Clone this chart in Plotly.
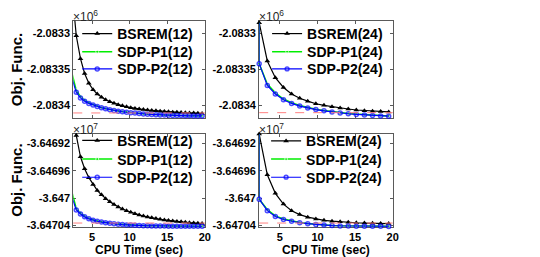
import plotly.graph_objects as go

# ---------------- data ----------------
# CPU time (sec)
t12 = [2.34, 2.90, 3.46, 4.01, 4.57, 5.13, 5.69, 6.25, 6.80, 7.36, 7.92, 8.48, 9.04, 9.59,
       10.15, 10.71, 11.27, 11.83, 12.38, 12.94, 13.50, 14.06, 14.62, 15.17, 15.73, 16.29,
       16.85, 17.41, 17.96, 18.52, 19.08, 19.64]
t24 = [2.24, 3.32, 4.39, 5.47, 6.55, 7.63, 8.70, 9.78, 10.86, 11.93, 13.01, 14.09, 15.16,
       16.24, 17.32, 18.40, 19.47]
t24_sdp = [2.24] + t24

# Objective function values, top row (x1e6)
top_bsrem12 = [-2083240.5, -2083303.2, -2083335.2, -2083355.8, -2083369.5, -2083378.5, -2083384.5,
               -2083389.1, -2083392.5, -2083395.2, -2083397.5, -2083399.5, -2083401.1, -2083402.5,
               -2083403.7, -2083404.7, -2083405.5, -2083406.3, -2083407.0, -2083407.5, -2083408.1,
               -2083408.6, -2083409.1, -2083409.5, -2083409.9, -2083410.1, -2083410.4, -2083410.7,
               -2083411.0, -2083411.2, -2083411.4, -2083411.7]
top_p1_12 = [-2083355.9, -2083379.5, -2083388.1, -2083393.2, -2083396.7, -2083399.3, -2083401.5,
             -2083403.4, -2083404.9, -2083406.2, -2083407.3, -2083408.2, -2083409.0, -2083409.8,
             -2083410.5, -2083411.1, -2083411.6, -2083412.2, -2083412.6, -2083413.0, -2083413.3,
             -2083413.6, -2083413.9, -2083414.1, -2083414.3, -2083414.4, -2083414.5, -2083414.7,
             -2083414.8, -2083415.0, -2083415.1, -2083415.1]
top_p2_12 = [-2083363.0, -2083382.2, -2083390.0, -2083394.5, -2083397.7, -2083400.0, -2083402.1,
             -2083403.8, -2083405.2, -2083406.4, -2083407.5, -2083408.5, -2083409.3, -2083410.0,
             -2083410.7, -2083411.2, -2083411.8, -2083412.3, -2083412.8, -2083413.2, -2083413.4,
             -2083413.7, -2083414.0, -2083414.3, -2083414.4, -2083414.5, -2083414.7, -2083414.8,
             -2083415.0, -2083415.1, -2083415.1, -2083415.2]
top_bsrem24 = [-2083284.9, -2083338.4, -2083361.7, -2083375.4, -2083384.5, -2083390.4, -2083394.5,
               -2083398.2, -2083400.4, -2083402.3, -2083404.1, -2083405.5, -2083406.9, -2083407.8,
               -2083408.5, -2083409.1, -2083409.6]
top_p1_24 = [-2083284.9, -2083342.1, -2083370.6, -2083382.9, -2083391.5, -2083396.7, -2083400.7,
             -2083403.7, -2083405.9, -2083407.7, -2083409.2, -2083410.6, -2083411.7, -2083412.6,
             -2083413.4, -2083414.1, -2083414.7, -2083415.1]
top_p2_24 = [-2083284.9, -2083342.1, -2083372.6, -2083384.5, -2083392.7, -2083397.7, -2083401.4,
             -2083404.1, -2083406.3, -2083408.1, -2083409.6, -2083411.0, -2083412.1, -2083413.0,
             -2083413.8, -2083414.5, -2083415.1, -2083415.5]
top_opt12 = -2083411.0
top_opt24 = -2083410.6

# Objective function values, bottom row (x1e7)
bot_bsrem12 = [-36468576.9, -36469080.6, -36469392.8, -36469569.8, -36469699.3, -36469800.1,
               -36469886.4, -36469951.2, -36470008.7, -36470054.8, -36470095.1, -36470131.0,
               -36470159.8, -36470185.7, -36470208.7, -36470228.9, -36470246.2, -36470262.0,
               -36470276.4, -36470289.3, -36470300.8, -36470310.9, -36470319.5, -36470328.2,
               -36470335.4, -36470342.6, -36470348.3, -36470354.1, -36470359.8, -36470364.2,
               -36470368.5, -36470372.8]
bot_p1_12 = [-36469920.9, -36470152.6, -36470217.4, -36470264.9, -36470296.5, -36470319.5,
             -36470335.4, -36470346.9, -36470358.4, -36470367.0, -36470374.2, -36470380.0,
             -36470385.7, -36470390.1, -36470392.9, -36470395.8, -36470398.7, -36470401.6,
             -36470403.0, -36470404.4, -36470405.9, -36470407.3, -36470408.8, -36470408.8,
             -36470410.2, -36470410.2, -36470411.6, -36470411.6, -36470411.6, -36470413.1,
             -36470413.1, -36470413.1]
bot_p2_12 = [-36469992.9, -36470174.2, -36470231.8, -36470274.9, -36470303.7, -36470325.3,
             -36470339.7, -36470351.2, -36470361.3, -36470369.9, -36470377.1, -36470382.9,
             -36470388.6, -36470392.9, -36470395.8, -36470398.7, -36470401.6, -36470404.4,
             -36470405.9, -36470407.3, -36470408.8, -36470410.2, -36470410.2, -36470411.6,
             -36470411.6, -36470413.1, -36470413.1, -36470413.1, -36470414.5, -36470414.5,
             -36470414.5, -36470414.5]
bot_bsrem24 = [-36469060.0, -36469656.2, -36469929.6, -36470087.9, -36470184.3, -36470241.8,
               -36470279.3, -36470306.6, -36470325.3, -36470338.2, -36470348.3, -36470355.5,
               -36470361.3, -36470365.6, -36470368.5, -36470371.3, -36470372.8]
bot_p1_24 = [-36469060.0, -36470015.9, -36470167.0, -36470260.5, -36470306.6, -36470333.9,
             -36470357.0, -36470372.8, -36470384.3, -36470392.9, -36470400.2, -36470404.4,
             -36470407.3, -36470408.8, -36470410.2, -36470411.6, -36470411.6, -36470413.1]
bot_p2_24 = [-36469060.0, -36470015.9, -36470184.3, -36470270.6, -36470313.8, -36470339.7,
             -36470361.3, -36470375.7, -36470387.2, -36470395.8, -36470403.0, -36470407.3,
             -36470410.2, -36470411.6, -36470413.1, -36470414.5, -36470414.5, -36470416.0]
bot_opt12 = -36470365.6
bot_opt24 = -36470365.6

top_ticks = [-2.0834, -2.08335, -2.0833]
top_ticktext = ["-2.0834", "-2.08335", "-2.0833"]
bot_ticks = [-3.64704, -3.647, -3.64696, -3.64692]
bot_ticktext = ["-3.64704", "-3.647", "-3.64696", "-3.64692"]
x_ticks = [5, 10, 15, 20]

# ---------------- figure ----------------
W, H = 540, 257
FONT = "Liberation Sans"
AXCOL = "#5a5a5a"

def px_x(a, b):
    return [a / W, b / W]

def px_y(top, bot):
    return [1 - bot / H, 1 - top / H]

fig = go.Figure()

panels = [
    ("x", "y", t12, t12, top_bsrem12, top_p1_12, top_p2_12, top_opt12, 1e6, "12", False),
    ("x2", "y2", t24, t24_sdp, top_bsrem24, top_p1_24, top_p2_24, top_opt24, 1e6, "24", True),
    ("x3", "y3", t12, t12, bot_bsrem12, bot_p1_12, bot_p2_12, bot_opt12, 1e7, "12", False),
    ("x4", "y4", t24, t24_sdp, bot_bsrem24, bot_p1_24, bot_p2_24, bot_opt24, 1e7, "24", True),
]

# legend row positions (pixels): left x, row centre y's
leg_rows = [(70, [26.5, 45, 62.5]), (262, [26.5, 45, 62.5]),
            (70, [135.5, 154.5, 173]), (261, [136, 154.5, 173])]

li = 1
for pi, (xa, ya, tb, ts, b, p1, p2, opt, sc, n, hide0) in enumerate(panels):
    lx, rows = leg_rows[pi]
    names = []
    for k in range(3):
        li += 1
        names.append(f"legend{li}")
        fig.update_layout({names[-1]: dict(
            x=lx / W, y=1 - rows[k] / H, xanchor="left", yanchor="middle",
            bgcolor="rgba(0,0,0,0)", borderwidth=0,
            font=dict(family=FONT, size=14, color="black", weight="bold"),
            itemwidth=30)})
    s_p1 = [0 if (hide0 and i == 0) else 3 for i in range(len(ts))]
    s_p2 = [0 if (hide0 and i == 0) else 4 for i in range(len(ts))]
    fig.add_trace(go.Scatter(x=tb, y=[v / sc for v in b], xaxis=xa, yaxis=ya, legend=names[0],
                             mode="lines+markers", name=f"BSREM({n})", cliponaxis=False,
                             line=dict(color="black", width=1.2),
                             marker=dict(symbol="triangle-up", size=5, color="black")))
    fig.add_trace(go.Scatter(x=ts, y=[v / sc for v in p1], xaxis=xa, yaxis=ya, legend=names[1],
                             mode="lines+markers", name=f"SDP-P1({n})", cliponaxis=False,
                             line=dict(color="#00ee00", width=1.5),
                             marker=dict(symbol="circle", size=s_p1, color="#00ee00")))
    fig.add_trace(go.Scatter(x=ts, y=[v / sc for v in p2], xaxis=xa, yaxis=ya, legend=names[2],
                             mode="lines+markers", name=f"SDP-P2({n})", cliponaxis=False,
                             line=dict(color="#0000ff", width=1.2),
                             marker=dict(symbol="circle-open", size=s_p2,
                                         line=dict(color="#0000ff", width=1.5))))
    fig.add_shape(type="line", xref=f"{xa} domain", yref=ya, x0=0, x1=1,
                  y0=opt / sc, y1=opt / sc, line=dict(color="#ff8080", width=1, dash="dash"))

tickfont = dict(family=FONT, size=11, color="black", weight="bold")
titlefont = dict(family=FONT, size=12, color="black", weight="bold")

xdom_l = px_x(66, 199)
xdom_r = px_x(254, 389)
ydom_t = px_y(13, 112.5)
ydom_b = px_y(128, 223)

def xax(dom, anchor, rng, labels, title=None):
    d = dict(domain=dom, anchor=anchor, range=rng, tickvals=x_ticks,
             showticklabels=labels, ticks="inside", ticklen=3, tickcolor=AXCOL,
             showline=True, linecolor=AXCOL, linewidth=1, mirror="ticks",
             showgrid=False, zeroline=False, tickfont=tickfont, layer="below traces")
    if title:
        d["title"] = dict(text=title, font=titlefont, standoff=2)
    return d

def yax(dom, anchor, rng, tv, tt, title=None):
    d = dict(domain=dom, anchor=anchor, range=rng, tickvals=tv, ticktext=tt,
             ticks="inside", ticklen=3, tickcolor=AXCOL,
             showline=True, linecolor=AXCOL, linewidth=1, mirror="ticks",
             showgrid=False, zeroline=False, tickfont=tickfont, layer="below traces")
    if title:
        d["title"] = dict(text=title, font=dict(family=FONT, size=15, color="black", weight="bold"),
                          standoff=2)
    return d

top_rng = [-2.0834185, -2.0832822]
bot_rng = [-3.64704188, -3.64690518]

fig.update_layout(
    width=W, height=H, margin=dict(l=0, r=0, t=0, b=0),
    paper_bgcolor="white", plot_bgcolor="white", showlegend=True,
    font=dict(family=FONT, color="black"),
    xaxis=xax(xdom_l, "y", [2.5, 20], False),
    yaxis=yax(ydom_t, "x", top_rng, top_ticks, top_ticktext, "Obj. Func."),
    xaxis2=xax(xdom_r, "y2", [2.24, 20], False),
    yaxis2=yax(ydom_t, "x2", top_rng, top_ticks, top_ticktext),
    xaxis3=xax(xdom_l, "y3", [2.5, 20], True, "CPU Time (sec)"),
    yaxis3=yax(ydom_b, "x3", bot_rng, bot_ticks, bot_ticktext, "Obj. Func."),
    xaxis4=xax(xdom_r, "y4", [2.24, 20], True, "CPU Time (sec)"),
    yaxis4=yax(ydom_b, "x4", bot_rng, bot_ticks, bot_ticktext),
)

for dom, yt, exp in [(xdom_l, ydom_t, 6), (xdom_r, ydom_t, 6), (xdom_l, ydom_b, 7), (xdom_r, ydom_b, 7)]:
    fig.add_annotation(x=dom[0], y=yt[1], xref="paper", yref="paper", xanchor="left",
                       yanchor="bottom", showarrow=False, xshift=-2, yshift=-5,
                       text=f"×10<sup>{exp}</sup>",
                       font=dict(family=FONT, size=12, color="#262626"))

fig.write_html("out.html")
